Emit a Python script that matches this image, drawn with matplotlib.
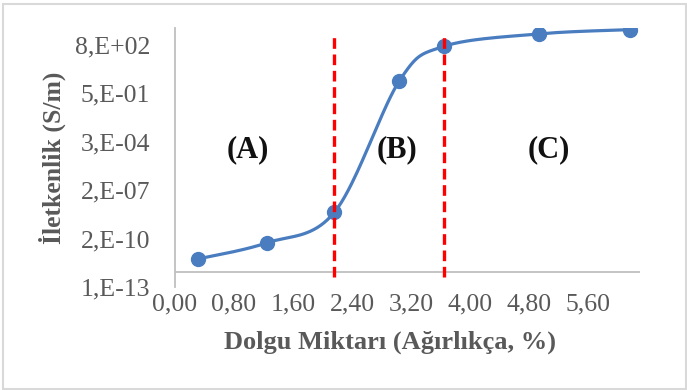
import numpy as np
import matplotlib
matplotlib.use("Agg")
import matplotlib.pyplot as plt
from matplotlib.patches import Rectangle

# ---- data ----
filler = [0.31, 1.24, 2.16, 3.04, 3.64, 4.93, 6.16]
conductivity = [6.9e-12, 7.8e-11, 8.1e-9, 3.4, 6.2e2, 4.1e3, 7.8e3]
x_ticks = [0.0, 0.8, 1.6, 2.4, 3.2, 4.0, 4.8, 5.6]
x_ticklabels = ["0,00", "0,80", "1,60", "2,40", "3,20", "4,00", "4,80", "5,60"]
y_ticks = [1e-13, 1.515e-10, 2.295e-7, 3.477e-4, 5.27e-1, 7.98e2]
y_ticklabels = ["1,E-13", "2,E-10", "2,E-07", "3,E-04", "5,E-01", "8,E+02"]
boundaries = [2.16, 3.65]
regions = ["(A)", "(B)", "(C)"]
region_x = [0.98, 3.01, 5.06]

W, H = 687, 390
fig = plt.figure(figsize=(W / 100, H / 100), dpi=100)
serif = ["Liberation Serif", "DejaVu Serif"]
gray = "#595959"

# outer chart border
fig.patches.append(Rectangle((3 / W, 1 / H), 683 / W, 385 / H, transform=fig.transFigure,
                             fill=False, edgecolor="#D9D9D9", linewidth=1.5))

ax = fig.add_axes([175 / W, 1 - 287 / H, (640 - 175) / W, (287 - 28) / H])
ax.set_yscale("log")
ax.set_xlim(0, 6.3)
ax.set_ylim(1e-13, 1e4)


def smooth(xs, ys, n=40):
    # Catmull-Rom style Bezier smoothing (like Excel's smoothed line) in x / log10(y)
    px = np.array(xs, float)
    py = np.log10(np.array(ys, float))
    outx, outy = [], []
    m = len(px)
    for i in range(m - 1):
        i0 = max(i - 1, 0)
        i3 = min(i + 2, m - 1)
        p0 = np.array([px[i], py[i]])
        p3 = np.array([px[i + 1], py[i + 1]])
        c1 = p0 + (np.array([px[i + 1], py[i + 1]]) - np.array([px[i0], py[i0]])) / 6
        c2 = p3 - (np.array([px[i3], py[i3]]) - np.array([px[i], py[i]])) / 6
        t = np.linspace(0, 1, n)[:, None]
        b = ((1 - t) ** 3) * p0 + 3 * ((1 - t) ** 2) * t * c1 + 3 * (1 - t) * t ** 2 * c2 + t ** 3 * p3
        outx.extend(b[:, 0]); outy.extend(b[:, 1])
    return np.array(outx), 10 ** np.array(outy)


sx, sy = smooth(filler, conductivity)
blue = "#4A7DC0"
ax.plot(sx, sy, color=blue, linewidth=2.3, zorder=3, solid_capstyle="round")
ax.plot(filler, conductivity, "o", color=blue, markersize=10, zorder=4)

for b in boundaries:
    ax.axvline(b, ymin=0.039, ymax=0.965, color="#FF0000", linewidth=2.4,
               dashes=(3.2, 1.7), zorder=5)

ax.axhline(1e-12, color="#BFBFBF", linewidth=1.3, zorder=1)

for s in ["top", "right", "bottom"]:
    ax.spines[s].set_visible(False)
ax.spines["left"].set_color("#BFBFBF")
ax.spines["left"].set_linewidth(1.3)

ax.set_xticks(x_ticks)
ax.set_xticklabels(x_ticklabels)
ax.set_yticks(y_ticks)
ax.set_yticklabels(y_ticklabels)
ax.yaxis.set_minor_locator(matplotlib.ticker.NullLocator())
ax.tick_params(axis="both", length=0, labelcolor=gray, labelsize=18.5)
ax.tick_params(axis="x", pad=5)
ax.tick_params(axis="y", pad=18)
for lab in ax.get_xticklabels() + ax.get_yticklabels():
    lab.set_family(serif)

for r, x in zip(regions, region_x):
    ax.text(x, 1e-4, r, ha="center", va="center", fontsize=22, fontweight="bold",
            family=serif, color="#111111")

fig.text(390 / W, 1 - 342 / H, "Dolgu Miktarı (Ağırlıkça, %)", ha="center", va="center",
         fontsize=19, fontweight="bold", family=serif, color=gray)
fig.text(52 / W, 1 - 158 / H, "İletkenlik (S/m)", ha="center", va="center", rotation=90,
         fontsize=18.5, fontweight="bold", family=serif, color=gray)

fig.savefig("out.png", dpi=100)
